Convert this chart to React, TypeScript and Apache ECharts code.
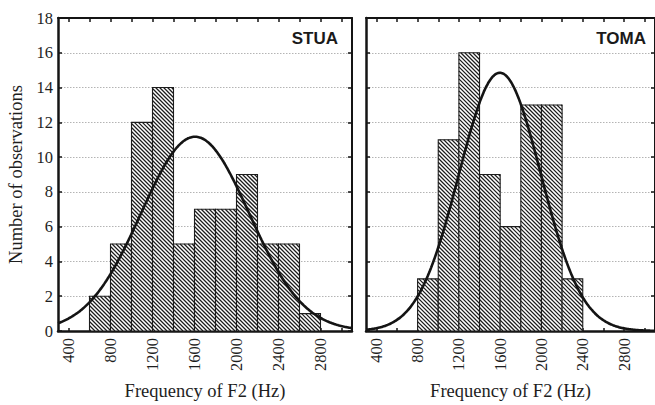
import React, { useEffect, useRef } from "react";
import * as echarts from "echarts";

// Histogram bins (lower edge, Hz) and observation counts per speaker
const binWidth = 200;
const stuaBinStart = [600, 800, 1000, 1200, 1400, 1600, 1800, 2000, 2200, 2400, 2600];
const stuaCounts = [2, 5, 12, 14, 5, 7, 7, 9, 5, 5, 1];
const tomaBinStart = [800, 1000, 1200, 1400, 1600, 1800, 2000, 2200];
const tomaCounts = [3, 11, 16, 9, 6, 13, 13, 3];

const speakers = ["STUA", "TOMA"];
const xTickLabels = [400, 800, 1200, 1600, 2000, 2400, 2800];
const xMinorTicks = [400, 600, 800, 1000, 1200, 1400, 1600, 1800, 2000, 2200, 2400, 2600, 2800, 3000];
const xMin = 300;
const xMax = 3100;
const yMax = 18;
const yStep = 2;

const SERIF = "Liberation Serif";
const INK = "#141414";
const TEXT = "#1e1e1e";

// Normal curve fitted to the binned counts (mean and sd of bin midpoints),
// scaled to counts per bin.
function normalFit(starts: number[], counts: number[]) {
  const n = counts.reduce((a, b) => a + b, 0);
  const mids = starts.map((s) => s + binWidth / 2);
  const mean = mids.reduce((a, m, i) => a + m * counts[i], 0) / n;
  const variance = mids.reduce((a, m, i) => a + (m - mean) * (m - mean) * counts[i], 0) / n;
  const sd = Math.sqrt(variance);
  const pts: number[][] = [];
  for (let x = xMin; x <= xMax; x += 10) {
    const z = (x - mean) / sd;
    pts.push([x, (n * binWidth) / (sd * Math.sqrt(2 * Math.PI)) * Math.exp(-0.5 * z * z)]);
  }
  return pts;
}

function hatchedBar(params: any, api: any) {
  const x0 = api.value(0);
  const x1 = api.value(1);
  const c = api.value(2);
  const p0 = api.coord([x0, c]);
  const p1 = api.coord([x1, 0]);
  const left = p0[0];
  const top = p0[1];
  const right = p1[0];
  const bottom = p1[1];
  const shape = { x: left, y: top, width: right - left, height: bottom - top };
  const children: any[] = [{ type: "rect", shape, style: { fill: "#fff" } }];
  const step = 4;
  const kStart = Math.ceil((top - right) / step) * step;
  for (let k = kStart; k <= bottom - left; k += step) {
    const xa = Math.max(left, top - k);
    const xb = Math.min(right, bottom - k);
    if (xb - xa > 0.3) {
      children.push({
        type: "line",
        shape: { x1: xa, y1: xa + k, x2: xb, y2: xb + k },
        style: { stroke: "#1c1c1c", lineWidth: 1.25 },
      });
    }
  }
  children.push({ type: "rect", shape, style: { fill: "none", stroke: "#1c1c1c", lineWidth: 1.1 } });
  return { type: "group", children };
}

export default function App() {
  const ref = useRef<HTMLDivElement>(null);

  useEffect(() => {
    document.body.style.margin = "0";
    if (!ref.current) return;
    const chart = echarts.init(ref.current, null, { renderer: "svg" });

    const panels = [
      { left: 58, starts: stuaBinStart, counts: stuaCounts },
      { left: 366, starts: tomaBinStart, counts: tomaCounts },
    ];
    const panelWidth = 294;

    const grid: any[] = [];
    const xAxis: any[] = [];
    const yAxis: any[] = [];
    const series: any[] = [];
    const graphic: any[] = [];

    panels.forEach((p, i) => {
      grid.push({ left: p.left, width: panelWidth, top: 18, height: 320 });
      // bottom axis with labels
      xAxis.push({
        type: "value",
        gridIndex: i,
        min: xMin,
        max: xMax,
        position: "bottom",
        name: "Frequency of F2 (Hz)",
        nameLocation: "middle",
        nameGap: 50,
        nameTextStyle: { fontFamily: SERIF, fontSize: 18.5, color: TEXT },
        axisLine: { onZero: false, lineStyle: { color: INK, width: 2.5 } },
        axisTick: { inside: true, length: 3, customValues: xMinorTicks, lineStyle: { color: INK, width: 1.5 } },
        axisLabel: {
          customValues: xTickLabels,
          formatter: (v: number) => String(v),
          rotate: 90,
          margin: 7,
          fontFamily: SERIF,
          fontSize: 16.5,
          color: TEXT,
        },
        splitLine: { show: false },
      });
      // top border with inward ticks
      xAxis.push({
        type: "value",
        gridIndex: i,
        min: xMin,
        max: xMax,
        position: "top",
        axisLine: { onZero: false, lineStyle: { color: INK, width: 2 } },
        axisTick: { inside: true, length: 4, customValues: xMinorTicks, lineStyle: { color: INK, width: 1.5 } },
        axisLabel: { show: false },
        splitLine: { show: false },
      });
      yAxis.push({
        type: "value",
        gridIndex: i,
        min: 0,
        max: yMax,
        interval: yStep,
        position: "left",
        name: i === 0 ? "Number of observations" : "",
        nameLocation: "middle",
        nameGap: 33,
        nameTextStyle: { fontFamily: SERIF, fontSize: 18.5, color: TEXT },
        axisLine: { onZero: false, lineStyle: { color: INK, width: 2.5 } },
        axisTick: { inside: true, length: 4, lineStyle: { color: INK, width: 1.5 } },
        axisLabel: { show: i === 0, margin: 5, fontFamily: SERIF, fontSize: 16.5, color: TEXT },
        splitLine: { show: true, lineStyle: { color: "#b4b4b4", type: [1.5, 1.5], width: 1 } },
      });
      yAxis.push({
        type: "value",
        gridIndex: i,
        min: 0,
        max: yMax,
        interval: yStep,
        position: "right",
        axisLine: { onZero: false, lineStyle: { color: INK, width: 2 } },
        axisTick: { inside: true, length: 4, lineStyle: { color: INK, width: 1.5 } },
        axisLabel: { show: false },
        splitLine: { show: false },
      });

      series.push({
        type: "custom",
        xAxisIndex: i * 2,
        yAxisIndex: i * 2,
        renderItem: hatchedBar,
        encode: { x: [0, 1], y: 2 },
        data: p.starts.map((s, j) => [s, s + binWidth, p.counts[j]]),
        z: 2,
      });
      series.push({
        type: "line",
        xAxisIndex: i * 2,
        yAxisIndex: i * 2,
        data: normalFit(p.starts, p.counts),
        showSymbol: false,
        smooth: true,
        lineStyle: { color: INK, width: 2.6 },
        z: 5,
      });

      graphic.push({
        type: "text",
        x: p.left + panelWidth - 14,
        y: 38,
        style: {
          text: speakers[i],
          align: "right",
          verticalAlign: "middle",
          fontFamily: "Liberation Sans",
          fontWeight: "bold",
          fontSize: 17,
          fill: "#1a1a1a",
        },
      });
    });

    chart.setOption({
      animation: false,
      backgroundColor: "#fff",
      grid,
      xAxis,
      yAxis,
      series,
      graphic,
    });

    return () => chart.dispose();
  }, []);

  return <div ref={ref} style={{ width: 655, height: 405 }} />;
}
